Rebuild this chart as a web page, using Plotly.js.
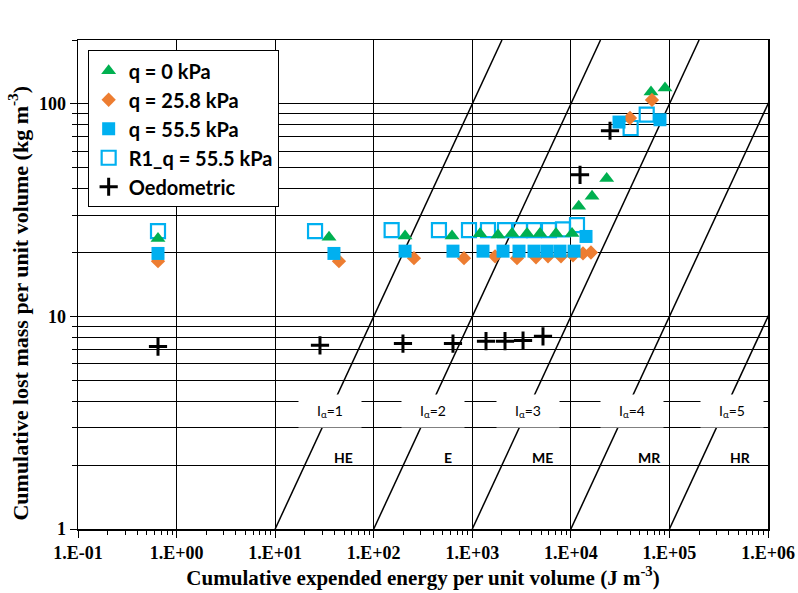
<!DOCTYPE html>
<html>
<head>
<meta charset="utf-8">
<script src="https://cdn.plot.ly/plotly-3.0.1.min.js"></script>
<style>html,body{margin:0;padding:0;background:#fff;}#chart{width:798px;height:593px;}</style>
</head>
<body>
<div id="chart"></div>
<script>
// ---- data ----
const q0_E = [0.648, 35.2, 208, 623, 1197, 1824, 2530, 3592, 4865, 7066, 10280, 12020, 16400, 23100, 65000, 90200];
const q0_M = [23.3, 23.6, 23.9, 23.9, 24.5, 24.2, 24.6, 24.6, 24.6, 24.6, 24.6, 33.0, 36.8, 44.6, 114, 119];

const q258_E = [0.648, 44.4, 256, 824, 1702, 2843, 4429, 5861, 7943, 10520, 13280, 16000, 39800, 66500];
const q258_M = [18.2, 18.2, 18.8, 18.8, 19.2, 18.8, 19.0, 19.2, 19.2, 19.4, 19.8, 20.0, 85.9, 104.5];

const q555_E = [0.648, 39.5, 208, 637, 1285, 2050, 2979, 4229, 5728, 7762, 10770, 14250, 30800, 80200];
const q555_M = [19.8, 19.8, 20.3, 20.3, 20.3, 20.3, 20.3, 20.3, 20.3, 20.3, 20.3, 23.8, 82.2, 84.3];

const r1_E = [0.648, 25.4, 152, 459, 926, 1443, 2148, 3049, 4229, 5998, 8318, 11540, 40400, 58800];
const r1_M = [25.2, 25.2, 25.5, 25.5, 25.5, 25.5, 25.5, 25.5, 25.5, 25.5, 25.7, 26.9, 77.1, 89.1];

const oed_E = [0.648, 28.5, 198, 637, 1378, 2148, 3273, 5215, 12390, 24950];
const oed_M = [7.22, 7.32, 7.46, 7.46, 7.65, 7.65, 7.70, 8.07, 46.4, 74.8];

// Reference lines of constant ratio E/M (start at M = 1)
const refLineStartE = [10, 100, 1000, 10000, 100000];
const refLineM = [1, 200];

const seriesNames = ['q = 0 kPa', 'q = 25.8 kPa', 'q = 55.5 kPa', 'R1_q = 55.5 kPa', 'Oedometric'];
const xTickVals = [0.1, 1, 10, 100, 1000, 10000, 100000, 1000000];
const xTickText = ['1.E-01', '1.E+00', '1.E+01', '1.E+02', '1.E+03', '1.E+04', '1.E+05', '1.E+06'];
const yTickVals = [1, 10, 100];
const yTickText = ['1', '10', '100'];
const yMinorVals = [2,3,4,5,6,7,8,9,20,30,40,50,60,70,80,90,200];
const xMinorVals = [];
[0.1,1,10,100,1000,10000,100000].forEach(d => { for (let k = 2; k <= 9; k++) xMinorVals.push(d*k); });

const zoneLabels = ['I<sub>α</sub>=1', 'I<sub>α</sub>=2', 'I<sub>α</sub>=3', 'I<sub>α</sub>=4', 'I<sub>α</sub>=5'];
const zoneLabelE = [36.1, 399, 3673, 41700, 431500];
const classLabels = ['HE', 'E', 'ME', 'MR', 'HR'];
const classLabelE = [48.8, 567, 5214, 63500, 532000];

// ---- traces ----
const traces = [];
refLineStartE.forEach(s => {
  traces.push({
    x: refLineM.map(m => m * s), y: refLineM, mode: 'lines', type: 'scatter',
    line: {color: '#000', width: 1.5}, showlegend: false, hoverinfo: 'skip'
  });
});
traces.push({x: r1_E, y: r1_M, name: seriesNames[3], mode: 'markers', type: 'scatter',
  marker: {symbol: 'square-open', size: 14, color: '#00B0F0', line: {width: 2.2, color: '#00B0F0'}}, legendrank: 4});
traces.push({x: q0_E, y: q0_M, name: seriesNames[0], mode: 'markers', type: 'scatter',
  marker: {symbol: 'triangle-up', size: 13, color: '#00B050'}, legendrank: 1});
traces.push({x: q258_E, y: q258_M, name: seriesNames[1], mode: 'markers', type: 'scatter',
  marker: {symbol: 'diamond', size: 11, color: '#ED7D31'}, legendrank: 2});
traces.push({x: q555_E, y: q555_M, name: seriesNames[2], mode: 'markers', type: 'scatter',
  marker: {symbol: 'square', size: 13, color: '#00B0F0'}, legendrank: 3});
traces.push({x: oed_E, y: oed_M, name: seriesNames[4], mode: 'markers', type: 'scatter',
  marker: {symbol: 'cross-thin', size: 13, color: '#000', line: {width: 3, color: '#000'}}, legendrank: 5});

const annotations = [];
zoneLabels.forEach((t, i) => annotations.push({
  x: Math.log10(zoneLabelE[i]), y: Math.log10(3.6), xref: 'x', yref: 'y', text: t, showarrow: false,
  bgcolor: '#fff', width: 60, height: 30, font: {family: 'Lato, sans-serif', size: 14, color: '#000'}
}));
classLabels.forEach((t, i) => annotations.push({
  x: Math.log10(classLabelE[i]), y: Math.log10(2.16), xref: 'x', yref: 'y', text: '<b>' + t + '</b>', showarrow: false,
  font: {family: 'Lato, sans-serif', size: 14, color: '#000'}
}));
// y-axis title (placed as rotated text so its centre matches the reference)
annotations.push({
  x: -0.087, y: 0.463, xref: 'paper', yref: 'paper', xanchor: 'center', yanchor: 'middle', textangle: -90,
  text: 'Cumulative lost mass per unit volume (kg m<sup>-3</sup>)', showarrow: false,
  font: {family: 'Liberation Serif, serif', size: 22, color: '#000', weight: 'bold'}
});

const layout = {
  width: 798, height: 593,
  margin: {l: 78, r: 30, t: 40, b: 64},
  paper_bgcolor: '#fff', plot_bgcolor: '#fff',
  showlegend: true,
  legend: {x: 0.014, y: 0.979, xanchor: 'left', yanchor: 'top', bgcolor: '#fff', bordercolor: '#000', borderwidth: 1,
    font: {family: 'Lato, sans-serif', size: 20, color: '#000', weight: 'bold'}, traceorder: 'normal'},
  xaxis: {
    type: 'log', range: [-1, 6], tickmode: 'array', tickvals: xTickVals, ticktext: xTickText,
    showgrid: true, gridcolor: '#000', gridwidth: 1, zeroline: false,
    showline: true, linecolor: '#000', linewidth: 1.5, mirror: true,
    ticks: 'outside', ticklen: 7, tickcolor: '#000',
    minor: {tickmode: 'array', tickvals: xMinorVals, ticks: 'outside', ticklen: 4, tickcolor: '#000', showgrid: false},
    tickfont: {family: 'Liberation Serif, serif', size: 18, color: '#000', weight: 'bold'},
    title: {text: 'Cumulative expended energy per unit volume (J m<sup>-3</sup>)', standoff: 5,
      font: {family: 'Liberation Serif, serif', size: 21, color: '#000', weight: 'bold'}}
  },
  yaxis: {
    type: 'log', range: [0, Math.log10(200)], tickmode: 'array', tickvals: yTickVals, ticktext: yTickText,
    showgrid: true, gridcolor: '#000', gridwidth: 1, zeroline: false,
    showline: true, linecolor: '#000', linewidth: 1.5, mirror: true,
    ticks: 'outside', ticklen: 7, tickcolor: '#000',
    minor: {tickmode: 'array', tickvals: yMinorVals, ticks: 'outside', ticklen: 5, tickcolor: '#000', showgrid: true, gridcolor: '#000', gridwidth: 1},
    tickfont: {family: 'Liberation Serif, serif', size: 18, color: '#000', weight: 'bold'}
  },
  annotations: annotations
};

Plotly.newPlot('chart', traces, layout, {displayModeBar: false, staticPlot: true});
</script>
</body>
</html>
